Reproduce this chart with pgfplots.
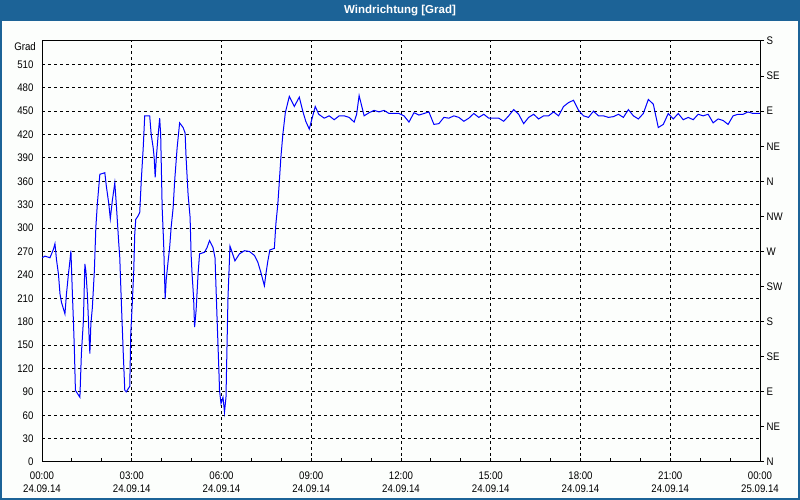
\documentclass[border=0pt]{standalone}
\usepackage{fontspec}
\setmainfont{Liberation Sans}[FakeStretch=0.88]
\newfontfamily\titlefont{Liberation Sans}
\usepackage{pgfplots}
\pgfplotsset{compat=1.18}
\definecolor{titleblue}{RGB}{28,99,151}
\definecolor{bgc}{RGB}{252,254,252}
\pgfplotstableread{
t v
0 262
6 264
16 262
23 273
26 280
29 260
33 241
36 216
39 205
46 190
49 215
53 241
56 258
58 271
61 215
63 181
65 143
67 92
76 83
79 139
83 181
86 254
88 245
91 215
95 152
96 139
98 177
101 198
105 245
108 301
111 331
116 369
126 371
129 354
134 331
137 312
141 335
146 358
149 331
154 280
156 262
159 207
163 139
166 92
169 90
176 97
178 164
181 203
184 245
186 292
188 311
193 316
196 320
199 360
203 403
206 444
216 444
219 420
223 403
225 390
227 365
229 388
233 420
236 441
238 420
241 326
244 280
246 233
247 209
249 233
253 258
256 275
259 301
263 326
266 360
271 403
276 435
283 429
287 422
289 390
293 343
297 314
299 267
301 241
304 211
306 173
309 194
313 241
316 267
326 269
331 275
336 284
343 275
347 262
351 186
355 113
356 92
359 75
363 83
366 64
369 83
373 211
377 277
387 258
396 267
406 271
416 270
426 265
433 256
439 243
446 226
449 241
453 258
457 272
466 274
469 305
473 331
476 360
479 390
483 420
488 448
496 469
506 456
516 468
523 450
529 437
536 427
543 444
548 456
555 446
566 441
576 444
586 439
596 444
606 444
616 442
626 436
631 446
636 470
646 444
656 448
666 451
676 449
686 451
696 447
716 447
726 444
736 436
746 448
756 445
766 447
776 449
786 433
796 434
806 442
816 441
826 444
836 442
846 437
856 441
866 447
876 442
886 446
896 441
906 441
916 441
926 437
936 444
946 452
956 446
966 434
976 442
986 446
996 440
1006 444
1016 444
1026 449
1036 444
1046 456
1056 461
1066 464
1076 451
1086 444
1096 442
1106 450
1116 444
1126 444
1136 442
1146 443
1156 446
1166 442
1176 452
1186 444
1196 440
1206 447
1216 465
1226 459
1236 429
1246 433
1256 447
1266 440
1276 447
1286 439
1296 442
1306 439
1316 446
1326 444
1336 446
1346 435
1356 440
1366 438
1376 433
1386 444
1396 446
1406 446
1416 449
1426 447
1440 447
}\winddata
\begin{document}
\begin{tikzpicture}[x=1bp,y=1bp]
\fill[bgc] (0,0) rectangle (800,500);
\fill[titleblue] (0,479) rectangle (800,500);
\draw[titleblue, line width=2bp] (1,1) rectangle (799,499);
\node[text=white, font=\titlefont\bfseries\fontsize{11.5bp}{13bp}\selectfont] at (400,489.5) {Windrichtung [Grad]};
\node[anchor=east, inner sep=0pt, font=\fontsize{11bp}{13bp}\selectfont] at (36,453.3) {Grad};
\begin{axis}[
  at={(42bp,38bp)}, anchor=south west,
  scale only axis, width=718bp, height=421bp,
  xmin=0, xmax=1440, ymin=0, ymax=540,
  axis line style={black, line width=1bp},
  xtick={0,180,...,1440},
  minor xtick={60,120,...,1380},
  xticklabels={{00:00\\24.09.14},{03:00\\24.09.14},{06:00\\24.09.14},{09:00\\24.09.14},{12:00\\24.09.14},{15:00\\24.09.14},{18:00\\24.09.14},{21:00\\24.09.14},{00:00\\25.09.14}},
  ytick={0,30,...,510},
  xtick pos=bottom, ytick pos=left,
  tick align=inside,
  major tick length=4bp, minor tick length=4bp,
  tick style={black, line width=1bp},
  ytick style={draw=none},
  grid=major,
  major grid style={black, line width=1bp, dash pattern=on 3bp off 3bp},
  /pgf/number format/assume math mode=true,
  tick label style={font=\fontsize{11bp}{13bp}\selectfont},
  xticklabel style={align=center, yshift=-6bp},
  yticklabel style={xshift=-5bp},
]
\addplot[blue, line width=1bp] table[x=t, y=v] {\winddata};
\end{axis}
\begin{axis}[
  at={(42bp,38bp)}, anchor=south west,
  scale only axis, width=718bp, height=421bp,
  xmin=0, xmax=1440, ymin=0, ymax=540,
  axis x line=none, axis y line*=right,
  axis line style={black, line width=1bp},
  ytick={0,45,...,540},
  yticklabels={N,NE,E,SE,S,SW,W,NW,N,NE,E,SE,S},
  tick align=outside, major tick length=4bp,
  tick style={black, line width=1bp},
  tick label style={font=\fontsize{11bp}{13bp}\selectfont},
  yticklabel style={xshift=-1bp},
]
\end{axis}
\end{tikzpicture}
\end{document}
